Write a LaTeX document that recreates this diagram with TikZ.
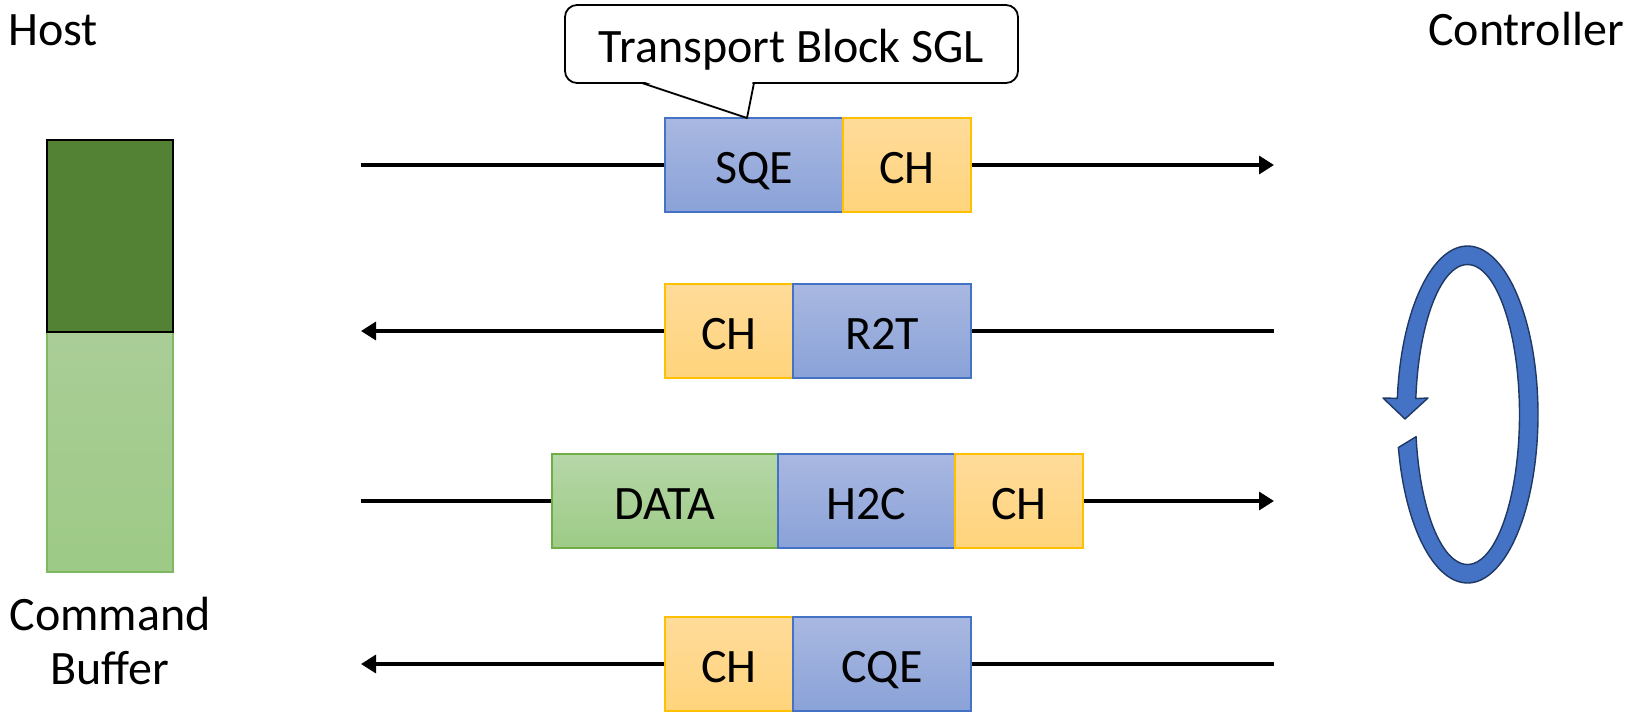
\documentclass[tikz,border=0pt]{standalone}
\usepackage{fontspec}
\setmainfont{Carlito}
\usetikzlibrary{arrows.meta}
\definecolor{blueT}{HTML}{A9B8E1}
\definecolor{blueB}{HTML}{8AA2D8}
\definecolor{blueD}{HTML}{4472C4}
\definecolor{orT}{HTML}{FFDB9A}
\definecolor{orB}{HTML}{FFD47C}
\definecolor{orD}{HTML}{FFC000}
\definecolor{grT}{HTML}{B6D7A8}
\definecolor{grB}{HTML}{9DCB86}
\definecolor{grD}{HTML}{70AD47}
\definecolor{hostDark}{HTML}{548235}
\definecolor{hostLT}{HTML}{AACD97}
\definecolor{hostLB}{HTML}{9DCA86}
\definecolor{hostLD}{HTML}{80B763}
\definecolor{cycFill}{HTML}{4472C4}
\definecolor{cycDraw}{HTML}{203864}
\begin{document}
\begin{tikzpicture}[x=1pt,y=-1pt,
  lbl/.style={inner sep=0pt, font=\fontsize{48}{57}\selectfont},
  seg/.style={inner sep=0pt, minimum height=94pt, line width=1.2pt,
    text height=36pt, text depth=0pt, font=\fontsize{48}{57}\selectfont},
  blueseg/.style={seg, draw=blueD, top color=blueT, bottom color=blueB},
  orseg/.style={seg, draw=orD, top color=orT, bottom color=orB},
  grseg/.style={seg, draw=grD, top color=grT, bottom color=grB},
  flow/.style={line width=3.3pt, -{Triangle[length=15pt,width=18pt]}},
  cyc/.style={fill=cycFill, draw=cycDraw, line width=1.4pt, line join=round}
]
\useasboundingbox (0,0) rectangle (1642,715);

% labels
\node[lbl, anchor=base west] (host) at (8,45) {Host};
\node[lbl, anchor=base east] (ctrl) at (1624,45) {Controller};
\node[lbl, anchor=base] (cmd) at (110,630) {Command};
\node[lbl, anchor=base] (buf) at (110,684) {Buffer};

% host buffer bar
\draw[draw=hostLD, line width=1.2pt, top color=hostLT, bottom color=hostLB] (47,332) rectangle (173,572);
\draw[fill=hostDark, draw=black, line width=1.8pt] (47,140) rectangle (173,332);

% flow lines
\coordinate (L1) at (361,165); \coordinate (R1) at (1274,165);
\coordinate (L2) at (361,331); \coordinate (R2) at (1274,331);
\coordinate (L3) at (361,501); \coordinate (R3) at (1274,501);
\coordinate (L4) at (361,664); \coordinate (R4) at (1274,664);
\draw[flow] (L1) -- (R1);
\draw[flow] (R2) -- (L2);
\draw[flow] (L3) -- (R3);
\draw[flow] (R4) -- (L4);

% row 1
\node[blueseg, minimum width=178pt] (sqe) at (754,165) {SQE};
\node[orseg, minimum width=128pt] (ch1) at (907,165) {CH};
% row 2
\node[orseg, minimum width=128pt] (ch2) at (729,331) {CH};
\node[blueseg, minimum width=178pt] (r2t) at (882,331) {R2T};
% row 3
\node[grseg, minimum width=226pt] (data) at (665,501) {DATA};
\node[blueseg, minimum width=177pt] (h2c) at (866.5,501) {H2C};
\node[orseg, minimum width=128pt] (ch3) at (1019,501) {CH};
% row 4
\node[orseg, minimum width=128pt] (ch4) at (729,664) {CH};
\node[blueseg, minimum width=178pt] (cqe) at (882,664) {CQE};

% callout
\draw[line width=1.8pt, fill=white, rounded corners=12pt] (565,5) rectangle (1018,83);
\fill[white] (644,81.6) -- (752.6,81.6) -- (747,116) -- cycle;
\draw[line width=1.8pt, line join=round] (642,83) -- (747,118) -- (754,83);
\node[lbl, anchor=base] (tbs) at (791.5,62) {Transport Block SGL};

% circular arrow
\path[cyc] plot[domain=0:343.2, samples=90, smooth, variable=\t] ({1467.5+70.5*cos(168.7-\t)},{414.5+168.5*sin(168.7-\t)})
  -- (1383,398) -- (1405,419) -- (1428,398)
  -- plot[domain=0:345.4, samples=90, smooth, variable=\t] ({1467.5+52*cos(-173.9+\t)},{414.5+150*sin(-173.9+\t)})
  -- cycle;
\end{tikzpicture}
\end{document}
